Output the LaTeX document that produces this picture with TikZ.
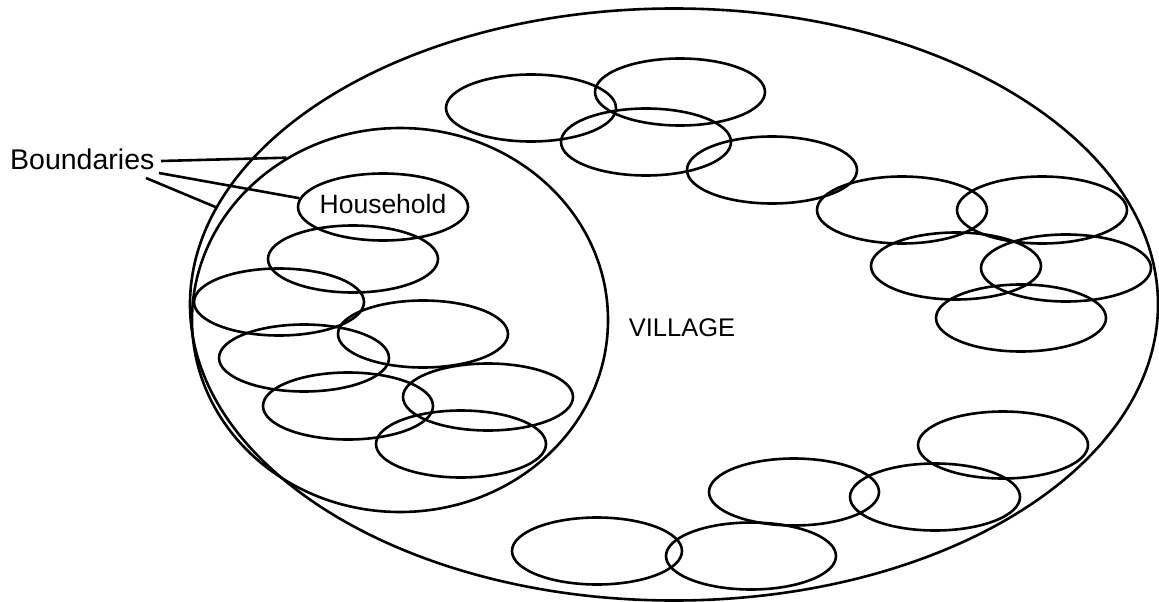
\documentclass[tikz,border=0pt]{standalone}
\usepackage{fontspec}
\setmainfont{Liberation Sans}
\usetikzlibrary{shapes.geometric}
\begin{document}
\begin{tikzpicture}[x=1pt,y=-1pt,
  hh/.style={draw,ellipse,line width=2.6pt,inner sep=0pt,minimum width=170pt,minimum height=67pt},
  bound/.style={draw,ellipse,line width=2.6pt,inner sep=0pt},
  lead/.style={line width=2.6pt},
  lbl/.style={inner sep=0pt}]
\useasboundingbox (0,0) rectangle (1159,602);
% boundaries
\node[bound,minimum width=968pt,minimum height=592pt] (village) at (674,304.5) {};
\node[bound,minimum width=416pt,minimum height=384pt] (section) at (400,320) {};
% households, upper arc
\node[hh] (h1) at (531,108) {};
\node[hh] (h2) at (680,92) {};
\node[hh] (h3) at (646,142) {};
\node[hh] (h4) at (772,170) {};
\node[hh] (h5) at (902,210) {};
\node[hh] (h6) at (1042,210) {};
\node[hh] (h7) at (956,266) {};
\node[hh] (h8) at (1066,268) {};
\node[hh] (h9) at (1021,318) {};
% households, inside left boundary
\node[hh] (house) at (383,207) {};
\node[lbl,font=\fontsize{26.5}{30}\selectfont] (housetxt) at (383,204) {Household};
\node[hh] (h10) at (353,259) {};
\node[hh] (h11) at (279,302) {};
\node[hh] (h12) at (423,334) {};
\node[hh] (h13) at (304,358) {};
\node[hh] (h14) at (488,397) {};
\node[hh] (h15) at (348,406) {};
\node[hh] (h16) at (461,444) {};
% households, lower arc
\node[hh] (h17) at (1003,445) {};
\node[hh] (h18) at (794,492) {};
\node[hh] (h19) at (935,497) {};
\node[hh] (h20) at (597,551) {};
\node[hh] (h21) at (751,556) {};
% labels
\node[lbl,anchor=base,font=\fontsize{25.5}{30}\selectfont] (villagetxt) at (682,336) {VILLAGE};
\node[lbl,anchor=base west,font=\fontsize{28.5}{32}\selectfont] (bndtxt) at (10,169) {Boundaries};
% leaders
\coordinate (l1) at (161,161);
\coordinate (l2) at (159,173);
\coordinate (l3) at (146,178);
\draw[lead] (l1) -- (section.125.9);
\draw[lead] (l2) -- (house.174);
\draw[lead] (l3) -- (village.168.5);
\end{tikzpicture}
\end{document}
